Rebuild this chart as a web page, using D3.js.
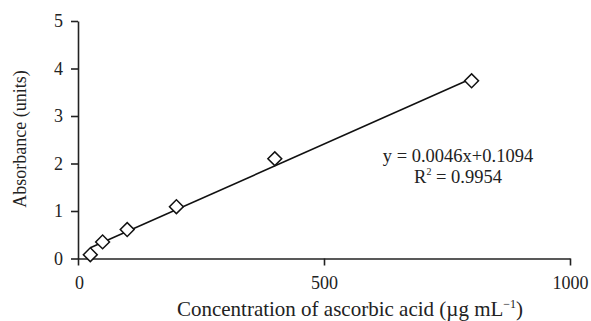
<!DOCTYPE html>
<html>
<head>
<meta charset="utf-8">
<script src="https://cdn.jsdelivr.net/npm/d3@7"></script>
<style>
  body { margin: 0; background: #fff; }
  text { font-family: "Liberation Serif", "Times New Roman", serif; fill: #222; }
</style>
</head>
<body>
<div id="grafico"></div>
<script>
// dados
const concentracoes = [25, 50, 100, 200, 400, 800];
const absorbancias = [0.08, 0.35, 0.61, 1.09, 2.1, 3.74];
const inclinacao = 0.0046;
const intercepto = 0.1094;
const ticksX = [0, 500, 1000];
const ticksY = [0, 1, 2, 3, 4, 5];

var largura = 591;
var altura = 321;

var svg = d3.select("#grafico")
    .append("svg")
    .attr("width", largura)
    .attr("height", altura);

var x = d3.scaleLinear().domain([0, 1000]).range([78, 570]);
var y = d3.scaleLinear().domain([0, 5]).range([258.5, 21]);

// eixos
var eixoX = svg.append("g")
    .attr("transform", "translate(0," + y(0) + ")")
    .call(d3.axisBottom(x).tickValues(ticksX).tickFormat(d3.format("d"))
        .tickSize(7).tickPadding(11).tickSizeOuter(0));

var eixoY = svg.append("g")
    .attr("transform", "translate(" + x(0) + ",0)")
    .call(d3.axisLeft(y).tickValues(ticksY).tickFormat(d3.format("d"))
        .tickSize(7).tickPadding(8).tickSizeOuter(0));

[eixoX, eixoY].forEach(function (g) {
    g.select(".domain").attr("stroke", "#222").attr("stroke-width", 1.6);
    g.selectAll(".tick line").attr("stroke", "#222").attr("stroke-width", 1.6);
    g.selectAll(".tick text")
        .attr("font-family", "Liberation Serif")
        .attr("font-size", "18px")
        .attr("fill", "#222");
});
eixoX.select(".tick text").attr("dx", 1);

// linha de tendência
var x0 = d3.min(concentracoes), x1 = d3.max(concentracoes);
svg.append("line")
    .attr("x1", x(x0)).attr("y1", y(inclinacao * x0 + intercepto))
    .attr("x2", x(x1)).attr("y2", y(inclinacao * x1 + intercepto))
    .attr("stroke", "#111")
    .attr("stroke-width", 1.6);

// pontos (losangos)
var losango = d3.symbol().type(d3.symbolSquare).size(96);
svg.selectAll("path.ponto")
    .data(concentracoes.map((c, i) => [c, absorbancias[i]]))
    .enter().append("path")
    .attr("class", "ponto")
    .attr("d", losango)
    .attr("transform", d => "translate(" + x(d[0]) + "," + y(d[1]) + ") rotate(45)")
    .attr("fill", "#fff")
    .attr("stroke", "#111")
    .attr("stroke-width", 1.5);

// equação
svg.append("text")
    .attr("x", 458).attr("y", 162)
    .attr("text-anchor", "middle")
    .attr("font-size", "18.5px")
    .text("y = " + inclinacao.toFixed(4) + "x+" + intercepto.toFixed(4));

var r2 = svg.append("text")
    .attr("x", 458).attr("y", 183)
    .attr("text-anchor", "middle")
    .attr("font-size", "18.5px");
r2.append("tspan").text("R");
r2.append("tspan").attr("font-size", "10px").attr("dy", -8).text("2");
r2.append("tspan").attr("dy", 8).text(" = 0.9954");

// títulos dos eixos
var tituloX = svg.append("text")
    .attr("x", 350).attr("y", 316)
    .attr("text-anchor", "middle")
    .attr("font-size", "21px");
tituloX.append("tspan").text("Concentration of ascorbic acid (µg mL");
tituloX.append("tspan").attr("font-size", "12px").attr("dy", -8).text("−1");
tituloX.append("tspan").attr("dy", 8).text(")");

svg.append("text")
    .attr("transform", "translate(26,139) rotate(-90)")
    .attr("text-anchor", "middle")
    .attr("font-size", "18px")
    .text("Absorbance (units)");
</script>
</body>
</html>
